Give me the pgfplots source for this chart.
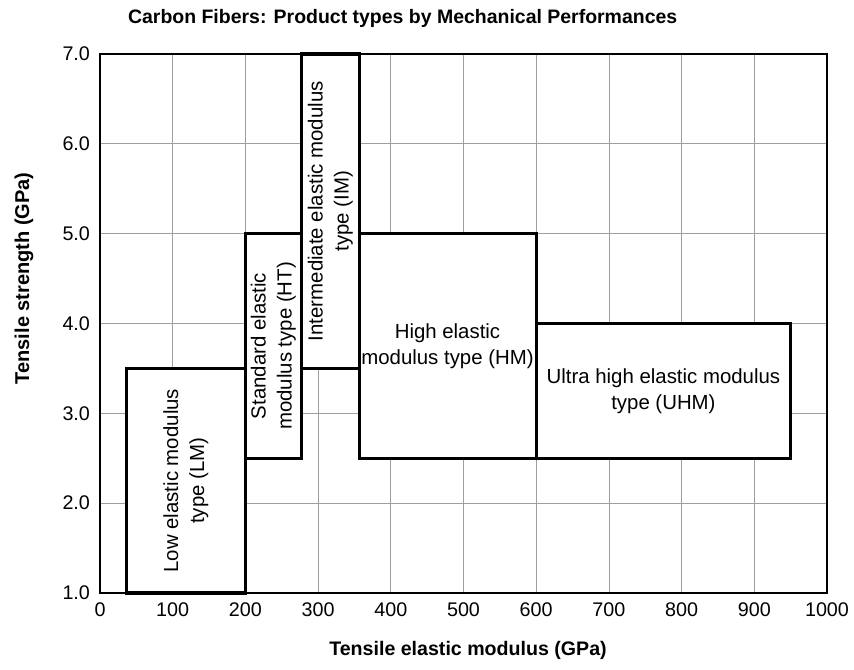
\documentclass[border=0pt]{standalone}
\usepackage{pgfplots}
\pgfplotsset{compat=1.18}
\usepackage{fontspec}
\setmainfont{Liberation Sans}

\begin{document}
\begin{tikzpicture}[
    box/.style={draw=black, fill=white, line width=2.3pt, line join=miter},
    lbl/.style={align=center, font=\fontsize{15.3}{19.5}\selectfont},
]
\useasboundingbox (-75pt,-57pt) rectangle (565.5pt,444.75pt);
\begin{axis}[
    scale only axis,
    width=545.25pt, height=404.25pt,
    xmin=0, xmax=1000, ymin=1, ymax=7,
    xtick={0,100,...,1000},
    ytick={1,2,...,7},
    grid=major,
    grid style={gray!75, line width=0.6pt},
    axis line style={line width=1.2pt},
    major tick length=0pt,
    clip=false,
    /pgf/number format/assume math mode=true,
    ticklabel style={font=\fontsize{14.8}{17}\selectfont},
    xticklabel style={yshift=-4pt, /pgf/number format/1000 sep={}},
    yticklabel style={xshift=-4pt, /pgf/number format/.cd, fixed, fixed zerofill, precision=1},
]
% Low elastic modulus (LM)
\addplot[box] coordinates {(36,1) (200,1) (200,3.5) (36,3.5)} -- cycle;
% Standard (HT)
\addplot[box] coordinates {(200,2.5) (277,2.5) (277,5) (200,5)} -- cycle;
% Intermediate (IM)
\addplot[box] coordinates {(277,3.5) (357,3.5) (357,7) (277,7)} -- cycle;
% High (HM)
\addplot[box] coordinates {(357,2.5) (600,2.5) (600,5) (357,5)} -- cycle;
% Ultra high (UHM)
\addplot[box] coordinates {(600,2.5) (950,2.5) (950,4) (600,4)} -- cycle;

\node[lbl, rotate=90] at (axis cs:118,2.25) {Low elastic modulus\\type (LM)};
\node[lbl, rotate=90] at (axis cs:238.5,3.75) {Standard elastic\\modulus type (HT)};
\node[lbl, rotate=90] at (axis cs:317,5.25) {Intermediate elastic modulus\\type (IM)};
\node[lbl] at (axis cs:478,3.75) {High elastic\\modulus type (HM)};
\node[lbl] at (axis cs:775,3.25) {Ultra high elastic modulus\\type (UHM)};
\end{axis}
\node[font=\bfseries\fontsize{14.6}{17}\selectfont] at (227pt,431pt)
    {Carbon Fibers: Product types by Mechanical Performances};
\node[font=\bfseries\fontsize{14.7}{17}\selectfont] at (276pt,-42.75pt)
    {Tensile elastic modulus (GPa)};
\node[font=\bfseries\fontsize{15}{17}\selectfont, rotate=90] at (-57pt,236pt)
    {Tensile strength (GPa)};
\end{tikzpicture}
\end{document}
